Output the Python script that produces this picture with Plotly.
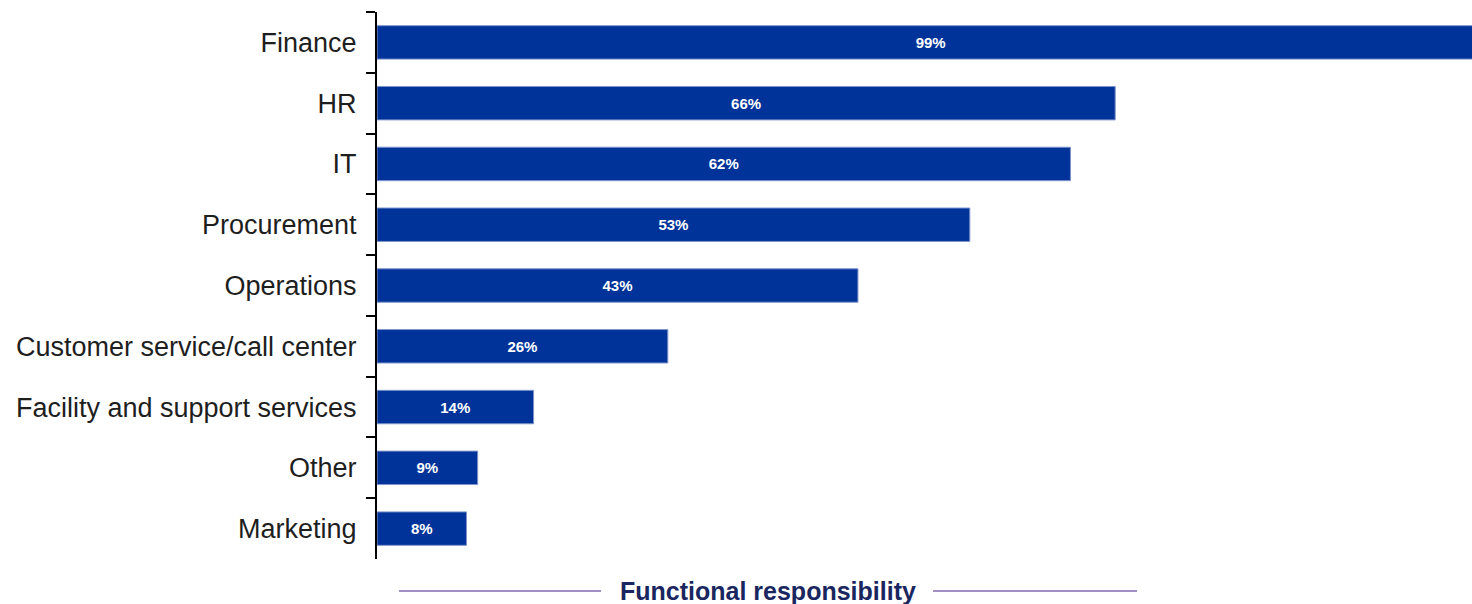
import plotly.graph_objects as go

categories = ["Finance", "HR", "IT", "Procurement", "Operations",
              "Customer service/call center", "Facility and support services",
              "Other", "Marketing"]
values = [99, 66, 62, 53, 43, 26, 14, 9, 8]
axis_title = "Functional responsibility"

fig = go.Figure(go.Bar(
    x=values, y=categories, orientation="h",
    marker=dict(color="#003399", line=dict(color="#7f95cc", width=1)),
    text=[f"{v}%" for v in values],
    textposition="inside", insidetextanchor="middle",
    textfont=dict(family="Arial, Liberation Sans", size=15, color="white", weight="bold"),
    cliponaxis=True,
))

fig.update_layout(
    width=1472, height=604,
    margin=dict(l=377, r=0, t=12, b=45),
    paper_bgcolor="white", plot_bgcolor="white",
    bargap=0.45, showlegend=False, uniformtext=dict(mode=False),
    font=dict(family="Arial, Liberation Sans", color="#222222"),
)
fig.update_xaxes(range=[0, 97.9], visible=False)
fig.update_yaxes(
    autorange="reversed", showline=True, linecolor="black", linewidth=2,
    ticks="outside", tickson="boundaries", ticklen=9, tickwidth=2, tickcolor="black",
    tickfont=dict(size=27, color="#1e1e1e"), ticklabelstandoff=13,
    showgrid=False, zeroline=False,
)

fig.add_annotation(
    text=axis_title, xref="paper", yref="paper", x=0.357, y=0, yshift=-32,
    showarrow=False, xanchor="center", yanchor="middle",
    font=dict(size=25, color="#1a2660", weight="bold"),
)
for x0, x1 in [(0.0201, 0.2046), (0.5078, 0.6941)]:
    fig.add_shape(type="line", xref="paper", yref="paper", x0=x0, x1=x1,
                  y0=-0.0585, y1=-0.0585, line=dict(color="#a38fc4", width=2))

fig.write_html("out.html")
